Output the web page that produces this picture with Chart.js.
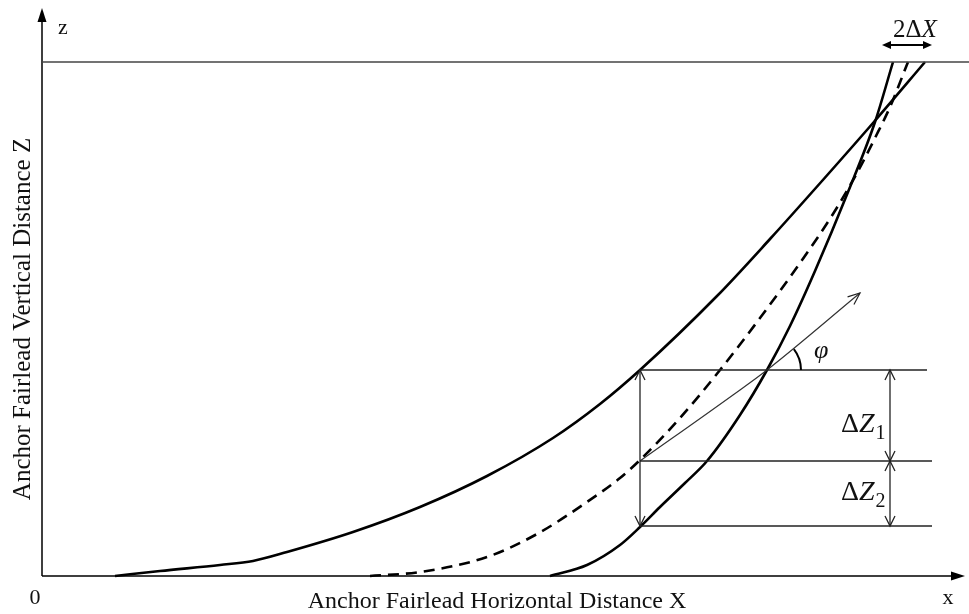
<!DOCTYPE html>
<html>
<head>
<meta charset="utf-8">
<script src="https://cdn.jsdelivr.net/npm/chart.js@4.4.1/dist/chart.umd.min.js"></script>
<style>
  html, body { margin: 0; padding: 0; background: #fff; }
</style>
</head>
<body>
<canvas id="myChart" width="969" height="614"></canvas>
<script>
// mooring line profiles: x = horizontal distance from anchor, z = height above seabed
const slackX = [7.3, 11.8, 17.8, 21.1, 24.5, 31.1, 37.8, 44.5, 51.1, 55.8, 59.8, 67.5, 72.8, 78.0, 83.1, 88.3]
const slackZ = [0, 0.5, 1.1, 1.5, 2.4, 4.4, 6.9, 10.0, 13.8, 17.2, 20.6, 28.0, 33.7, 39.5, 45.3, 51.4]
const meanX = [32.8, 37.8, 44.5, 49.5, 54.5, 57.8, 59.8, 63.8, 67.8, 71.8, 75.8, 79.1, 81.5, 83.3, 84.8, 86.6]
const meanZ = [0, 0.4, 1.9, 4.2, 7.4, 9.8, 11.6, 15.8, 20.6, 25.8, 31.3, 36.2, 40.3, 43.8, 46.9, 51.4]
const tautX = [50.8, 54.5, 57.8, 59.8, 61.8, 64.3, 66.5, 69.8, 72.5, 74.8, 77.3, 80.6, 83.3, 85.1]
const tautZ = [0, 1.1, 3.1, 4.9, 6.9, 9.3, 11.5, 16.1, 20.6, 25.0, 30.5, 38.4, 45.4, 51.4]

// tangent of the mean profile and its angle φ
const tangentX = [59.8, 69.1, 72.5, 81.8]
const tangentZ = [11.5, 18.1, 20.6, 28.3]

// levels ΔZ1 / ΔZ2 are measured between
const levelZ = [20.6, 11.5, 5.0]
const levelStartX = 59.8
const levelEndX = [88.5, 89.0, 89.0]
const dzArrowX = 84.8

// fairlead height and the 2ΔX offset band
const fairleadZ = 51.4
const fairleadEndX = 92.7
const offsetX = [84.0, 89.0]
const offsetZ = 53.1

const pts = (xs, zs) => xs.map((v, i) => ({ x: v, y: zs[i] }))

function head(ctx, x, y, ang, len, wid, fill) {
	ctx.save()
	ctx.translate(x, y)
	ctx.rotate(ang)
	ctx.beginPath()
	ctx.moveTo(-len, -wid)
	ctx.lineTo(0, 0)
	ctx.lineTo(-len, wid)
	if (fill) {
		ctx.closePath()
		ctx.fill()
	} else {
		ctx.stroke()
	}
	ctx.restore()
}

const sketch = {
	id: 'sketch',
	beforeDatasetsDraw(chart) {
		const { ctx, scales: { x, y } } = chart
		const x0 = x.getPixelForValue(0)
		const z0 = y.getPixelForValue(0)
		ctx.save()
		ctx.strokeStyle = '#000'
		ctx.fillStyle = '#000'
		ctx.lineWidth = 1.5
		ctx.beginPath()
		ctx.moveTo(x0, z0)
		ctx.lineTo(x0, y.top + 6)
		ctx.moveTo(x0, z0)
		ctx.lineTo(x.right - 6, z0)
		ctx.stroke()
		head(ctx, x0, y.top, -Math.PI / 2, 14, 4.5, true)
		head(ctx, x.right, z0, 0, 14, 4.5, true)
		ctx.restore()
	},
	afterDatasetsDraw(chart) {
		const { ctx, scales: { x, y } } = chart
		const px = v => x.getPixelForValue(v)
		const pz = v => y.getPixelForValue(v)
		const x0 = px(0)
		const z0 = pz(0)
		ctx.save()

		// vertical double arrows
		ctx.strokeStyle = '#222'
		ctx.lineWidth = 1.3
		const vArrow = (xv, za, zb) => {
			const xp = px(xv), a = pz(za), b = pz(zb)
			ctx.beginPath()
			ctx.moveTo(xp, a)
			ctx.lineTo(xp, b)
			ctx.stroke()
			head(ctx, xp, a, -Math.PI / 2, 10, 5, false)
			head(ctx, xp, b, Math.PI / 2, 10, 5, false)
		}
		vArrow(levelStartX, levelZ[0], levelZ[2])
		vArrow(dzArrowX, levelZ[0], levelZ[1])
		vArrow(dzArrowX, levelZ[1], levelZ[2])

		// tangent arrow head
		const n = tangentX.length
		const tx = px(tangentX[n - 1]), tz = pz(tangentZ[n - 1])
		const ang = Math.atan2(tz - pz(tangentZ[n - 2]), tx - px(tangentX[n - 2]))
		ctx.lineWidth = 1.2
		head(ctx, tx, tz, ang, 12, 5, false)

		// angle φ
		ctx.strokeStyle = '#000'
		ctx.lineWidth = 2
		ctx.beginPath()
		ctx.arc(px(tangentX[2]), pz(tangentZ[2]), 34, -0.66, 0)
		ctx.stroke()

		// 2ΔX arrow
		ctx.fillStyle = '#000'
		ctx.lineWidth = 2
		const ax0 = px(offsetX[0]), ax1 = px(offsetX[1]), az = pz(offsetZ)
		ctx.beginPath()
		ctx.moveTo(ax0 + 6, az)
		ctx.lineTo(ax1 - 6, az)
		ctx.stroke()
		head(ctx, ax0, az, Math.PI, 9, 4, true)
		head(ctx, ax1, az, 0, 9, 4, true)

		// texts
		ctx.fillStyle = '#111'
		ctx.textBaseline = 'alphabetic'
		ctx.textAlign = 'center'
		ctx.font = '22px "Liberation Serif"'
		ctx.fillText('z', x0 + 21, 34)
		ctx.font = '22px "Liberation Serif"'
		ctx.fillText('0', x0 - 7, z0 + 28)
		ctx.fillText('x', x.right - 17, z0 + 28)
		ctx.font = '24px "Liberation Serif"'
		ctx.fillText('Anchor Fairlead Horizontal Distance X', 497, z0 + 32)
		ctx.save()
		ctx.translate(30, 319)
		ctx.rotate(-Math.PI / 2)
		ctx.font = '25px "Liberation Serif"'
		ctx.fillText('Anchor Fairlead Vertical Distance Z', 0, 0)
		ctx.restore()

		ctx.textAlign = 'left'
		const dz = (label, left, base) => {
			ctx.font = '28px "Liberation Serif"'
			ctx.fillText('Δ', left, base)
			let w = ctx.measureText('Δ').width
			ctx.font = 'italic 28px "Liberation Serif"'
			ctx.fillText('Z', left + w, base)
			w += ctx.measureText('Z').width
			ctx.font = '20px "Liberation Serif"'
			ctx.fillText(label, left + w + 1, base + 7)
		}
		dz('1', 841, 432)
		dz('2', 841, 500)

		ctx.font = 'italic 26px "Liberation Serif"'
		ctx.fillText('φ', 814, 358)

		ctx.font = '25px "Liberation Serif"'
		ctx.fillText('2Δ', 893, 37)
		const w2 = ctx.measureText('2Δ').width
		ctx.font = 'italic 25px "Liberation Serif"'
		ctx.fillText('X', 893 + w2, 37)

		ctx.restore()
	}
}

const curve = (data, dash) => ({
	data: data,
	borderColor: '#000',
	borderWidth: 2.6,
	borderDash: dash,
	pointRadius: 0,
	showLine: true,
	cubicInterpolationMode: 'monotone',
	clip: false,
})

const straight = (data, color, width) => ({
	data: data,
	borderColor: color,
	borderWidth: width,
	pointRadius: 0,
	showLine: true,
	tension: 0,
	clip: false,
})

const datasets = [
	straight([{ x: 0, y: fairleadZ }, { x: fairleadEndX, y: fairleadZ }], '#444', 1.5),
	...levelZ.map((z, i) => straight([{ x: levelStartX, y: z }, { x: levelEndX[i], y: z }], '#222', 1.5)),
	{ ...straight(pts(tangentX, tangentZ), '#333', 1.2), cubicInterpolationMode: 'monotone' },
	curve(pts(slackX, slackZ), []),
	curve(pts(meanX, meanZ), [11, 7]),
	curve(pts(tautX, tautZ), []),
]

const myChart = new Chart(document.getElementById('myChart'), {
	type: 'scatter',
	data: { datasets: datasets },
	options: {
		responsive: false,
		animation: false,
		devicePixelRatio: 1,
		layout: { padding: { left: 42, right: 4, top: 8, bottom: 38 } },
		scales: {
			x: { type: 'linear', min: 0, max: 92.3, display: false },
			y: { type: 'linear', min: 0, max: 56.8, display: false },
		},
		plugins: {
			legend: { display: false },
			tooltip: { enabled: false },
		},
	},
	plugins: [sketch],
})
</script>
</body>
</html>
